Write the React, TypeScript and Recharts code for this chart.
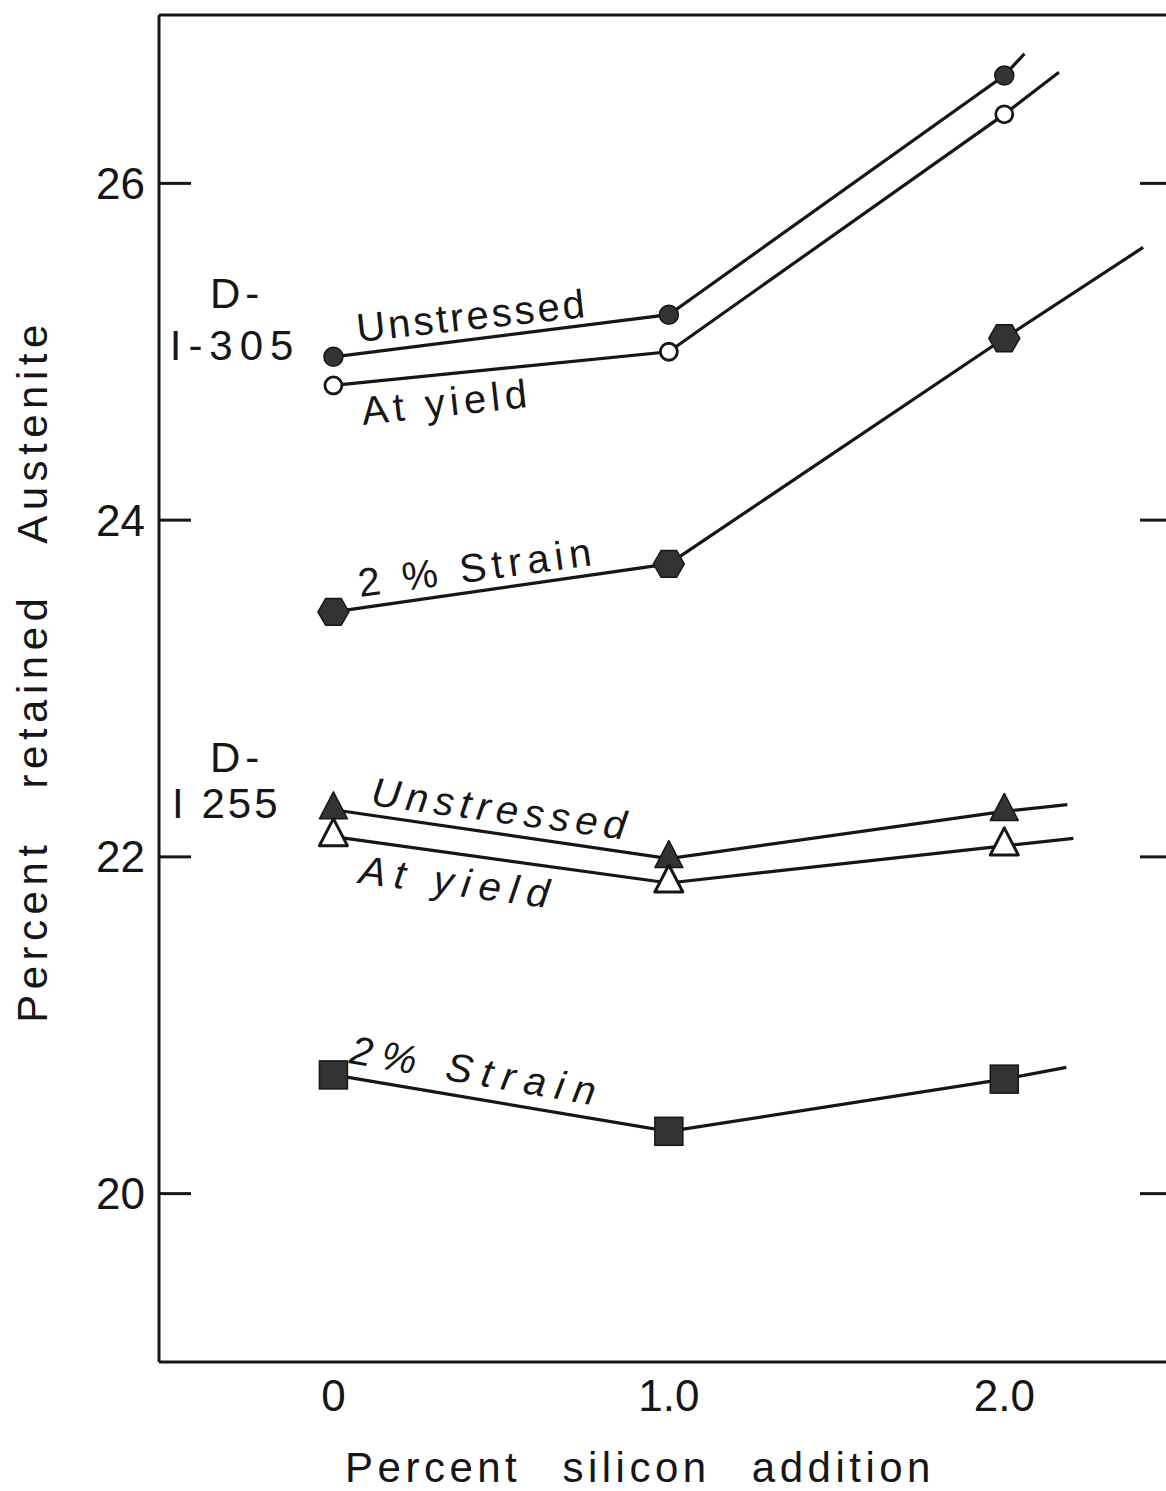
import React from 'react';
import { LineChart, Line, XAxis, YAxis, ReferenceLine, ReferenceDot } from 'recharts';

// silicon additions (%) at which the specimens were measured
const silicon = [0, 1.0, 2.0];
const xTickLabels = ['0', '1.0', '2.0'];
const yTicks = [20, 22, 24, 26];

// D-I-305, percent retained austenite
const d305Unstressed = [24.97, 25.22, 26.64];
const d305AtYield = [24.8, 25.0, 26.41];
const d305Strain = [23.455, 23.74, 25.08];

// D-I255, percent retained austenite
const d255Unstressed = [22.28, 21.99, 22.27];
const d255AtYield = [22.12, 21.845, 22.065];
const d255Strain = [20.705, 20.37, 20.68];

// end of each drawn line past the 2.0 % specimen (same order as the series)
const tailX = [2.06, 2.163, 2.414, 2.188, 2.206, 2.185];
const tailY = [26.77, 26.66, 25.62, 22.31, 22.11, 20.75];

const INK = '#161616';
const FILL = '#333';
const FONT = '"Liberation Sans", Arial, sans-serif';

type Pt = { x: number; y: number; tail?: boolean };

const build = (values: number[], i: number): Pt[] => [
  ...silicon.map((x, k) => ({ x, y: values[k] })),
  { x: tailX[i], y: tailY[i], tail: true },
];

const series = [
  { key: '305-unstressed', marker: 'dot', data: build(d305Unstressed, 0) },
  { key: '305-yield', marker: 'ring', data: build(d305AtYield, 1) },
  { key: '305-strain', marker: 'hex', data: build(d305Strain, 2) },
  { key: '255-unstressed', marker: 'tri', data: build(d255Unstressed, 3) },
  { key: '255-yield', marker: 'triOpen', data: build(d255AtYield, 4) },
  { key: '255-strain', marker: 'square', data: build(d255Strain, 5) },
];

// curve labels, placed in data units (baseline start)
const notes = [
  { text: 'D-', x: -0.368, y: 25.26, angle: 0, size: 42, spacing: 5 },
  { text: 'I-305', x: -0.488, y: 24.951, angle: 0, size: 42, spacing: 7 },
  { text: 'Unstressed', x: 0.073, y: 25.058, angle: -6.2, size: 40, spacing: 3 },
  { text: 'At yield', x: 0.088, y: 24.565, angle: -6.2, size: 40, spacing: 5 },
  { text: '2 % Strain', x: 0.079, y: 23.543, angle: -7.8, size: 40, spacing: 5.6 },
  { text: 'D-', x: -0.368, y: 22.504, angle: 0, size: 42, spacing: 5 },
  { text: 'I 255', x: -0.481, y: 22.231, angle: 0, size: 42, spacing: 3 },
  { text: 'Unstressed', x: 0.109, y: 22.308, angle: 7.75, size: 40, spacing: 6, italic: true },
  { text: 'At yield', x: 0.073, y: 21.845, angle: 7.5, size: 40, spacing: 8.5, italic: true },
  { text: '2% Strain', x: 0.044, y: 20.776, angle: 9.8, size: 40, spacing: 9.4, italic: true },
];

const Marker = ({ kind, cx, cy }: { kind: string; cx: number; cy: number }) => {
  switch (kind) {
    case 'dot':
      return <circle cx={cx} cy={cy} r={9.5} fill={FILL} stroke={INK} strokeWidth={1.5} />;
    case 'ring':
      return <circle cx={cx} cy={cy} r={8.5} fill="#fff" stroke={INK} strokeWidth={2.8} />;
    case 'hex': {
      const r = 15.5;
      const pts = [0, 1, 2, 3, 4, 5]
        .map((k) => {
          const a = (Math.PI / 3) * k;
          return `${cx + r * Math.cos(a)},${cy + r * Math.sin(a)}`;
        })
        .join(' ');
      return <polygon points={pts} fill={FILL} stroke={INK} strokeWidth={1.5} />;
    }
    case 'tri':
    case 'triOpen': {
      const pts = `${cx},${cy - 18} ${cx + 14},${cy + 9} ${cx - 14},${cy + 9}`;
      return kind === 'tri' ? (
        <polygon points={pts} fill={FILL} stroke={INK} strokeWidth={1.5} strokeLinejoin="round" />
      ) : (
        <polygon points={pts} fill="#fff" stroke={INK} strokeWidth={3} strokeLinejoin="round" />
      );
    }
    default:
      return <rect x={cx - 14} y={cy - 14} width={28} height={28} fill={FILL} stroke={INK} strokeWidth={1.5} />;
  }
};

const dotFor = (kind: string) => (props: any) => {
  const { cx, cy, payload, index } = props;
  if (payload.tail) return <g key={`t-${index}`} />;
  return (
    <g key={`m-${index}`}>
      <Marker kind={kind} cx={cx} cy={cy} />
    </g>
  );
};

const YTitle = () => (
  <text
    x={47}
    y={671}
    transform="rotate(-90 47 671)"
    textAnchor="middle"
    fontFamily={FONT}
    fontSize={42}
    fill={INK}
    style={{ letterSpacing: 5.5, wordSpacing: 34 }}
  >
    Percent retained Austenite
  </text>
);

const XTitle = () => (
  <text
    x={640}
    y={1482}
    textAnchor="middle"
    fontFamily={FONT}
    fontSize={42}
    fill={INK}
    style={{ letterSpacing: 4.5, wordSpacing: 25 }}
  >
    Percent silicon addition
  </text>
);

// right-hand axis only carries tick marks, no numbers
const NoLabel = () => <g />;

export default function App() {
  return (
    <div
      style={{
        position: 'absolute',
        left: 0,
        top: 0,
        width: 1166,
        height: 1491,
        overflow: 'hidden',
        background: '#fff',
      }}
    >
      <LineChart width={1180} height={1491} margin={{ top: 15, right: 7, bottom: 0, left: 0 }}>
        <XAxis
          type="number"
          dataKey="x"
          domain={[-0.52, 2.5]}
          ticks={silicon}
          tickFormatter={(v: number) => xTickLabels[silicon.indexOf(v)] ?? ''}
          height={129}
          allowDataOverflow
          stroke={INK}
          axisLine={{ stroke: INK, strokeWidth: 3 }}
          tickLine={false}
          tickSize={6}
          tickMargin={12}
          tick={{ fill: INK, fontSize: 44, fontFamily: FONT }}
          label={<XTitle />}
        />
        <YAxis
          type="number"
          domain={[19, 27]}
          ticks={yTicks}
          width={159}
          allowDataOverflow
          axisLine={{ stroke: INK, strokeWidth: 3 }}
          tickLine={{ stroke: INK, strokeWidth: 3 }}
          tickSize={-32}
          tickMargin={46}
          tick={{ fill: INK, fontSize: 44, fontFamily: FONT }}
          label={<YTitle />}
        />
        <YAxis
          yAxisId="r"
          orientation="right"
          type="number"
          domain={[19, 27]}
          ticks={yTicks}
          width={1}
          allowDataOverflow
          axisLine={false}
          tickLine={{ stroke: INK, strokeWidth: 3 }}
          tickSize={-32}
          tick={<NoLabel />}
        />
        <ReferenceLine y={27} stroke={INK} strokeWidth={3} />
        {series.map((s) => (
          <Line
            key={s.key}
            data={s.data}
            dataKey="y"
            type="linear"
            stroke={INK}
            strokeWidth={3.2}
            dot={dotFor(s.marker)}
            activeDot={false}
            isAnimationActive={false}
          />
        ))}
        {notes.map((n, i) => (
          <ReferenceDot
            key={`note-${i}`}
            x={n.x}
            y={n.y}
            r={0}
            shape={(p: any) => (
              <text
                x={p.cx}
                y={p.cy}
                transform={n.angle ? `rotate(${n.angle} ${p.cx} ${p.cy})` : undefined}
                fontFamily={FONT}
                fontSize={n.size}
                fontStyle={n.italic ? 'italic' : 'normal'}
                fill={INK}
                style={{ letterSpacing: n.spacing }}
              >
                {n.text}
              </text>
            )}
          />
        ))}
      </LineChart>
    </div>
  );
}
